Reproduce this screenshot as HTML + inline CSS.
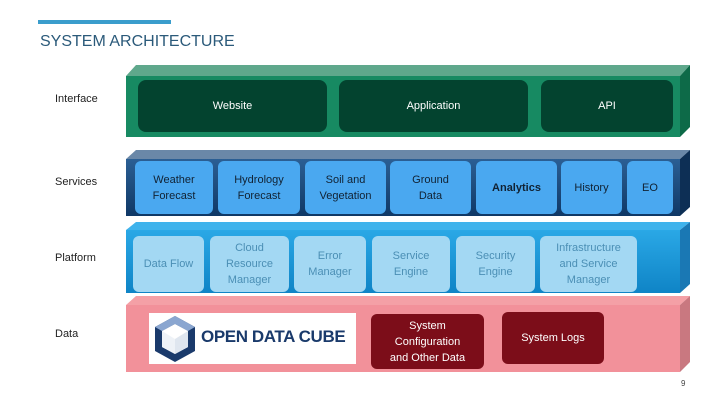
<!DOCTYPE html>
<html><head><meta charset="utf-8"><style>
body{margin:0;width:720px;height:405px;background:#fff;position:relative;overflow:hidden;font-family:"Liberation Sans",sans-serif}
.a{position:absolute}
.b{position:absolute;display:flex;align-items:center;justify-content:center;text-align:center;font-size:11px;line-height:16px;border-radius:7px}
.l{position:absolute;left:55px;font-size:11px;color:#222}
.g{background:#03432f;color:#fff;border-radius:8px}
.s{background:#4aa8f0;color:#123;border-radius:6px}
.p{background:#a3d8f3;color:#4b8fb5;border-radius:6px}
.r{background:#7c0d19;color:#fff;border-radius:6px}
</style></head><body>
<div class="a" style="left:38px;top:20px;width:133px;height:4px;background:#3a9dcc"></div>
<div class="a" style="left:40px;top:33px;font-size:16px;color:#2b5a7a">SYSTEM ARCHITECTURE</div>
<svg class="a" style="left:0;top:0" width="720" height="405">
<defs>
<linearGradient id="sv" x1="0" y1="0" x2="0" y2="1"><stop offset="0" stop-color="#2b5f94"/><stop offset="1" stop-color="#0f3866"/></linearGradient>
<linearGradient id="pl" x1="0" y1="0" x2="0" y2="1"><stop offset="0" stop-color="#2aa8e6"/><stop offset="1" stop-color="#0f84c6"/></linearGradient>
</defs>
<polygon points="126,76 136,65 690,65 680,76" fill="#5fa88c"/>
<polygon points="680,76 690,65 690,127 680,137" fill="#0d6a48"/>
<rect x="126" y="76" width="554" height="61" fill="#178a62"/>
<polygon points="126,159 136,150 690,150 680,159" fill="#6a88a8"/>
<polygon points="680,159 690,150 690,207 680,216" fill="#0d2f55"/>
<rect x="126" y="159" width="554" height="57" fill="url(#sv)"/>
<polygon points="126,230 136,222 690,222 680,230" fill="#3fb3ec"/>
<polygon points="680,230 690,222 690,284 680,293" fill="#1a78b4"/>
<rect x="126" y="230" width="554" height="63" fill="url(#pl)"/>
<polygon points="126,305 136,296 690,296 680,305" fill="#f4a0a6"/>
<polygon points="680,305 690,296 690,362 680,372" fill="#c97880"/>
<rect x="126" y="305" width="554" height="67" fill="#f2919a"/>
</svg>
<div class="l" style="top:93px">Interface</div>
<div class="l" style="top:176px">Services</div>
<div class="l" style="top:252px">Platform</div>
<div class="l" style="top:328px">Data</div>

<div class="b g" style="left:138px;top:80px;width:189px;height:52px">Website</div>
<div class="b g" style="left:339px;top:80px;width:189px;height:52px">Application</div>
<div class="b g" style="left:541px;top:80px;width:132px;height:52px">API</div>

<div class="b s" style="left:135px;top:161px;width:78px;height:53px">Weather<br>Forecast</div>
<div class="b s" style="left:218px;top:161px;width:82px;height:53px">Hydrology<br>Forecast</div>
<div class="b s" style="left:305px;top:161px;width:81px;height:53px">Soil and<br>Vegetation</div>
<div class="b s" style="left:390px;top:161px;width:81px;height:53px">Ground<br>Data</div>
<div class="b s" style="left:476px;top:161px;width:81px;height:53px;font-weight:bold">Analytics</div>
<div class="b s" style="left:561px;top:161px;width:61px;height:53px">History</div>
<div class="b s" style="left:627px;top:161px;width:46px;height:53px">EO</div>

<div class="b p" style="left:133px;top:236px;width:71px;height:56px">Data Flow</div>
<div class="b p" style="left:210px;top:236px;width:79px;height:56px">Cloud<br>Resource<br>Manager</div>
<div class="b p" style="left:294px;top:236px;width:72px;height:56px">Error<br>Manager</div>
<div class="b p" style="left:372px;top:236px;width:78px;height:56px">Service<br>Engine</div>
<div class="b p" style="left:456px;top:236px;width:79px;height:56px">Security<br>Engine</div>
<div class="b p" style="left:540px;top:236px;width:97px;height:56px">Infrastructure<br>and Service<br>Manager</div>

<div class="a" style="left:149px;top:313px;width:207px;height:51px;background:#fff"></div>
<svg class="a" style="left:150px;top:314px" width="50" height="50" viewBox="0 0 50 50">
<polygon points="25,2 45,13 45,37 25,48 5,37 5,13" fill="#1a3a6b"/>
<polygon points="25,2 45,13 38,17 25,10 12,17 5,13" fill="#8aa6d0"/>
<polygon points="12,17 25,10 38,17 38,33 25,40 12,33" fill="#fff"/>
<polygon points="25,25 38,17 38,33 25,40" fill="#dfe6ef"/>
<polygon points="12,17 25,25 25,40 12,33" fill="#eef2f7"/>
</svg>
<div class="a" style="left:201px;top:327px;font-size:17px;font-weight:bold;color:#1a3a6b;letter-spacing:-0.4px">OPEN DATA CUBE</div>
<div class="b r" style="left:371px;top:314px;width:113px;height:55px">System<br>Configuration<br>and Other Data</div>
<div class="b r" style="left:502px;top:312px;width:102px;height:52px">System Logs</div>
<div class="a" style="left:681px;top:379px;font-size:8px;color:#444">9</div>
</body></html>
